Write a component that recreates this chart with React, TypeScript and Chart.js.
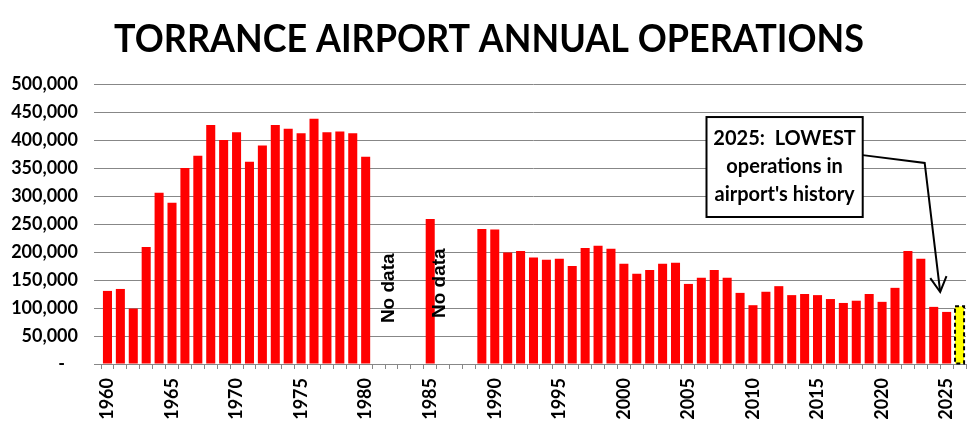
import { Chart, registerables } from "chart.js";
import { useEffect, useRef } from "react";

Chart.register(...registerables);

const years = [
  "1960", "1961", "1962", "1963", "1964", "1965", "1966", "1967", "1968", "1969",
  "1970", "1971", "1972", "1973", "1974", "1975", "1976", "1977", "1978", "1979",
  "1980", "1981", "1982", "1983", "1984", "1985", "1986", "1987", "1988", "1989",
  "1990", "1991", "1992", "1993", "1994", "1995", "1996", "1997", "1998", "1999",
  "2000", "2001", "2002", "2003", "2004", "2005", "2006", "2007", "2008", "2009",
  "2010", "2011", "2012", "2013", "2014", "2015", "2016", "2017", "2018", "2019",
  "2020", "2021", "2022", "2023", "2024", "2025", "2026",
];

// annual operations, null = no data
const operations = [
  130500, 134000, 99000, 209000, 306000, 288000, 350000, 372000, 427000, 400000,
  414000, 361000, 390000, 427000, 420000, 412000, 438000, 414000, 415000, 412000,
  370000, null, null, null, null, 259000, null, null, null, 241000,
  240000, 199000, 202000, 190000, 186000, 188000, 175000, 207000, 211000, 206000,
  179000, 161000, 168000, 179000, 181000, 143000, 154000, 168000, 154000, 127000,
  105000, 129000, 139000, 123000, 125000, 123000, 116000, 109000, 113000, 125000,
  111000, 136000, 202000, 188000, 102000, 93000, null,
];

// current (partial) year, drawn yellow
const partialYear = "2026";
const partialValue = 103000;

const noDataYears = ["1982", "1986"];
const noteLines = ["2025:  LOWEST", "operations in", "airport's history"];
const title = "TORRANCE AIRPORT ANNUAL OPERATIONS";

const FONT = "Lato, 'Open Sans', sans-serif";
const GRID = "#878787";

const overlay = {
  id: "overlay",
  afterDatasetsDraw(chart: any) {
    const { ctx, scales } = chart;
    const x = scales.x;
    const y = scales.y;

    // dashed outline for the partial year bar
    const meta = chart.getDatasetMeta(1);
    const bar = meta.data[0];
    if (bar) {
      const w = bar.width;
      ctx.save();
      ctx.strokeStyle = "#000";
      ctx.lineWidth = 2;
      ctx.setLineDash([4, 3]);
      ctx.strokeRect(bar.x - w / 2, bar.y, w, bar.base - bar.y);
      ctx.restore();
    }

    // "No data" markers
    ctx.save();
    ctx.fillStyle = "#000";
    ctx.font = "bold 19px 'Liberation Sans', Arial, sans-serif";
    ctx.textAlign = "left";
    ctx.textBaseline = "middle";
    noDataYears.forEach((yr, i) => {
      const px = x.getPixelForValue(years.indexOf(yr)) - 3;
      const py = y.getPixelForValue(i === 0 ? 73000 : 82000);
      ctx.save();
      ctx.translate(px, py);
      ctx.rotate(-Math.PI / 2);
      ctx.fillText("No data", 0, 0);
      ctx.restore();
    });
    ctx.restore();

    // callout box
    const left = x.getPixelForValue(46.4);
    const right = x.getPixelForValue(58.5);
    const top = y.getPixelForValue(441000);
    const bottom = y.getPixelForValue(262500);
    ctx.save();
    ctx.fillStyle = "#fff";
    ctx.fillRect(left, top, right - left, bottom - top);
    ctx.strokeStyle = "#000";
    ctx.lineWidth = 2;
    ctx.strokeRect(left, top, right - left, bottom - top);
    ctx.fillStyle = "#000";
    ctx.font = `bold 20px ${FONT}`;
    ctx.textAlign = "center";
    ctx.textBaseline = "middle";
    const cx = (left + right) / 2;
    [401800, 351800, 301800].forEach((v, i) => {
      ctx.fillText(noteLines[i], cx, y.getPixelForValue(v), right - left - 10);
    });

    // arrow
    const sx = right;
    const sy = y.getPixelForValue(373000);
    const ex = x.getPixelForValue(63.3);
    const ey = y.getPixelForValue(359000);
    const tx = x.getPixelForValue(64.5);
    const ty = y.getPixelForValue(128600);
    ctx.lineWidth = 2;
    ctx.beginPath();
    ctx.moveTo(sx, sy);
    ctx.lineTo(ex, ey);
    ctx.lineTo(tx, ty);
    ctx.stroke();
    const ang = Math.atan2(ty - ey, tx - ex);
    ctx.beginPath();
    ctx.moveTo(tx - 17 * Math.cos(ang - 0.5), ty - 17 * Math.sin(ang - 0.5));
    ctx.lineTo(tx, ty);
    ctx.lineTo(tx - 17 * Math.cos(ang + 0.5), ty - 17 * Math.sin(ang + 0.5));
    ctx.stroke();
    ctx.restore();
  },
  afterDraw(chart: any) {
    const { ctx } = chart;
    ctx.save();
    ctx.fillStyle = "#000";
    ctx.font = `bold 39px ${FONT}`;
    ctx.textAlign = "center";
    ctx.textBaseline = "alphabetic";
    ctx.fillText(title, 489, 52, 750);
    ctx.restore();
  },
};

const App = () => {
  const chartRef = useRef<HTMLCanvasElement>(null);
  const chartInstance = useRef<Chart | null>(null);

  useEffect(() => {
    document.body.style.margin = "0";
    const canvas = chartRef.current;
    if (!canvas) return;
    const ctx = canvas.getContext("2d");
    if (!ctx) return;

    if (chartInstance.current) {
      chartInstance.current.destroy();
    }

    chartInstance.current = new Chart(ctx, {
      type: "bar",
      data: {
        labels: years,
        datasets: [
          {
            data: operations,
            backgroundColor: "#ff0000",
            barPercentage: 0.7,
            categoryPercentage: 1,
            grouped: false,
          },
          {
            data: [{ x: partialYear, y: partialValue }],
            backgroundColor: "#ffff00",
            barPercentage: 0.7,
            categoryPercentage: 1,
            grouped: false,
          },
        ],
      } as any,
      options: {
        animation: false,
        responsive: true,
        maintainAspectRatio: false,
        layout: { padding: { top: 84, right: 10, left: 0, bottom: 0 } },
        plugins: {
          legend: { display: false },
          tooltip: { enabled: false },
        },
        scales: {
          x: {
            afterFit: (s: any) => {
              s.height = 79;
              s.paddingLeft = 0;
              s.paddingRight = 0;
            },
            grid: {
              offset: true,
              drawOnChartArea: false,
              tickLength: 5,
              color: GRID,
            },
            border: { color: GRID },
            ticks: {
              autoSkip: false,
              maxRotation: 90,
              minRotation: 90,
              padding: 9,
              color: "#000",
              font: { family: FONT, size: 18, weight: "bold" },
              callback: (_v: any, i: number) =>
                Number(years[i]) % 5 === 0 ? years[i] : "",
            },
          },
          y: {
            min: 0,
            max: 500000,
            afterFit: (s: any) => {
              s.width = 101;
            },
            grid: { color: GRID, tickLength: 7 },
            border: { display: false },
            ticks: {
              stepSize: 50000,
              padding: 16,
              color: "#000",
              font: { family: FONT, size: 18, weight: "bold" },
              callback: (v: any) =>
                v === 0 ? "-   " : Number(v).toLocaleString("en-US"),
            },
          },
        },
      },
      plugins: [overlay],
    });

    return () => {
      if (chartInstance.current) {
        chartInstance.current.destroy();
        chartInstance.current = null;
      }
    };
  }, []);

  return (
    <div style={{ width: 976, height: 443, position: "relative" }}>
      <canvas ref={chartRef} />
    </div>
  );
};

export default App;
